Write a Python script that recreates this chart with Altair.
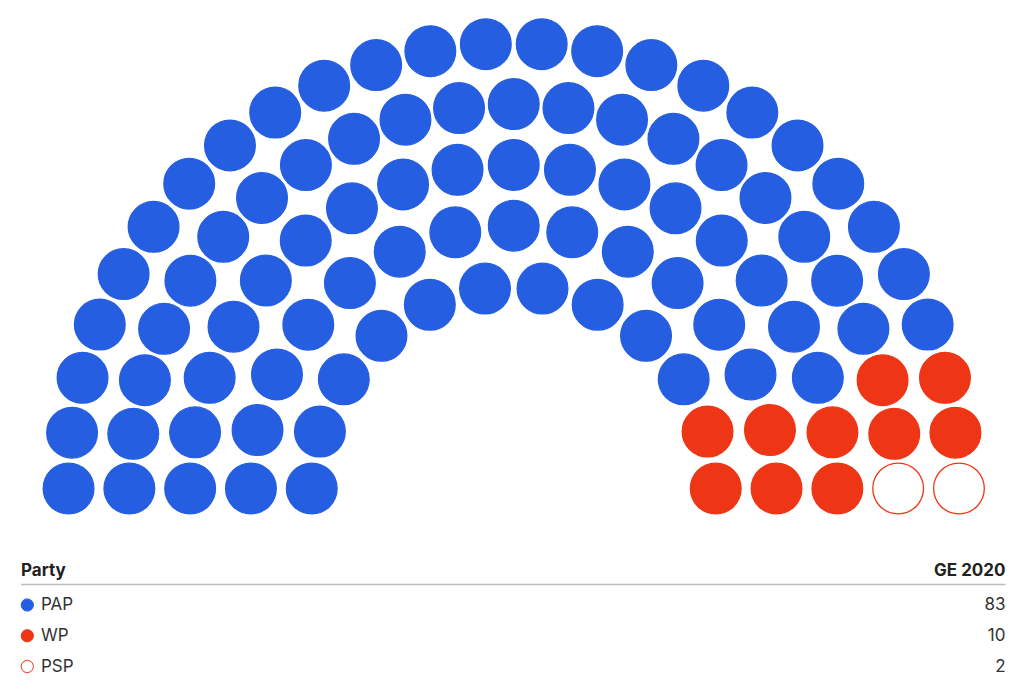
import altair as alt
import pandas as pd
import numpy as np

# ---- data ----
parties = ["PAP", "WP", "PSP"]
seats = [83, 10, 2]
fill_colors = ["#255EE0", "#EE3516", "#FFFFFF"]
stroke_colors = ["#255EE0", "#EE3516", "#EE3516"]
ring_seats = [12, 15, 19, 23, 26]          # seats per ring, inner -> outer
header = ["Party", "GE 2020"]

# ---- layout (seat positions computed from the ring counts) ----
R_INNER = 202.0
R_STEP = 60.8
seat_list = []
for i, n in enumerate(ring_seats):
    r = R_INNER + i * R_STEP
    for j in range(n):
        a = np.pi * (1 - j / (n - 1))
        seat_list.append((round(a, 9), i, r * np.cos(a), r * np.sin(a)))
seat_list.sort(key=lambda t: (-t[0], t[1]))
labels = []
for p, s in zip(parties, seats):
    labels += [p] * s
seat_df = pd.DataFrame({
    "x": [t[2] for t in seat_list],
    "y": [t[3] for t in seat_list],
    "party": labels,
})

FONT = "Inter"
fill_scale = alt.Scale(domain=parties, range=fill_colors)
stroke_scale = alt.Scale(domain=parties, range=stroke_colors)

parl = alt.Chart(seat_df).mark_circle(size=2570, opacity=1, strokeWidth=1.3).encode(
    x=alt.X("x:Q", scale=alt.Scale(domain=[-505.75, 502.25], nice=False, zero=False), axis=None),
    y=alt.Y("y:Q", scale=alt.Scale(domain=[-49.5, 480.5], nice=False, zero=False), axis=None),
    fill=alt.Fill("party:N", scale=fill_scale, legend=None),
    stroke=alt.Stroke("party:N", scale=stroke_scale, legend=None),
).properties(width=1008, height=530)

tab_df = pd.DataFrame({"party": parties, "seats": seats})
row_y = alt.Y("party:N", sort=parties,
              scale=alt.Scale(type="point", domain=parties, range=[55, 116.5], padding=0),
              axis=None)

dots = alt.Chart(tab_df).mark_circle(size=150, opacity=1, strokeWidth=1).encode(
    x=alt.value(19.3),
    y=row_y,
    fill=alt.Fill("party:N", scale=fill_scale, legend=None),
    stroke=alt.Stroke("party:N", scale=stroke_scale, legend=None),
)
names = alt.Chart(tab_df).mark_text(
    align="left", baseline="middle", font=FONT, fontSize=17, color="#333333"
).encode(x=alt.value(33), y=row_y, text="party:N")
nums = alt.Chart(tab_df).mark_text(
    align="right", baseline="middle", font=FONT, fontSize=17, color="#333333"
).encode(x=alt.value(997.5), y=row_y, text="seats:Q")

h_left = alt.Chart(pd.DataFrame({"t": [header[0]]})).mark_text(
    align="left", baseline="alphabetic", font=FONT, fontSize=17, fontWeight="bold", color="#222222"
).encode(x=alt.value(13), y=alt.value(26), text="t:N")
h_right = alt.Chart(pd.DataFrame({"t": [header[1]]})).mark_text(
    align="right", baseline="alphabetic", font=FONT, fontSize=17, fontWeight="bold", color="#222222"
).encode(x=alt.value(997.5), y=alt.value(26), text="t:N")
h_rule = alt.Chart(pd.DataFrame({"t": [0]})).mark_rule(color="#BDBDBD", strokeWidth=1.5).encode(
    x=alt.value(13), x2=alt.value(997.5), y=alt.value(34.5)
)

table = alt.layer(h_rule, h_left, h_right, dots, names, nums).properties(width=1008, height=135)

chart = alt.vconcat(parl, table, spacing=12).properties(padding=0).configure_view(
    stroke=None
).resolve_scale(y="independent", x="independent")

chart.save("out.html", embed_options={"renderer": "svg", "actions": False})
